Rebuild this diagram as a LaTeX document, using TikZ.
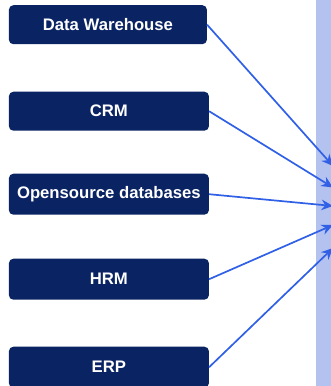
\documentclass[tikz,border=0pt]{standalone}
\usepackage{fontspec}
\setmainfont{Liberation Sans}
\usetikzlibrary{arrows.meta}
\definecolor{navy}{HTML}{0A2363}
\definecolor{link}{HTML}{3060E6}
\definecolor{strip}{HTML}{B4C2F0}
\tikzset{
  srcbox/.style={draw=none,fill=navy,rounded corners=4.5pt,text=white,font=\bfseries\fontsize{16.7}{19}\selectfont,anchor=north west,inner sep=0pt,align=center},
  link/.style={draw=link,line width=1.7pt,-{Stealth[length=11.5pt,width=10.5pt]}}
}
\begin{document}
\begin{tikzpicture}[x=1pt,y=-1pt]
\useasboundingbox (0,0) rectangle (331,386);
\fill[strip] (316,0) rectangle (331,386);
\node[srcbox,minimum width=198pt,minimum height=39pt] (dw) at (8.7,5) {Data Warehouse};
\node[srcbox,minimum width=200pt,minimum height=39pt] (crm) at (8.7,91.5) {CRM};
\node[srcbox,minimum width=200pt,minimum height=41pt] (os) at (8.7,173.5) {Opensource databases};
\node[srcbox,minimum width=200pt,minimum height=41pt] (hrm) at (8.7,258.5) {HRM};
\node[srcbox,minimum width=200pt,minimum height=41pt] (erp) at (8.7,346.5) {ERP};
\coordinate (t1) at (333,166);
\coordinate (t2) at (333,187.5);
\coordinate (t3) at (333,206);
\coordinate (t4) at (333,225);
\coordinate (t5) at (333,248);
\draw[link] (dw.east) -- (t1);
\draw[link] (crm.east) -- (t2);
\draw[link] (os.east) -- (t3);
\draw[link] (hrm.east) -- (t4);
\draw[link] (erp.east) -- (t5);
\end{tikzpicture}
\end{document}
